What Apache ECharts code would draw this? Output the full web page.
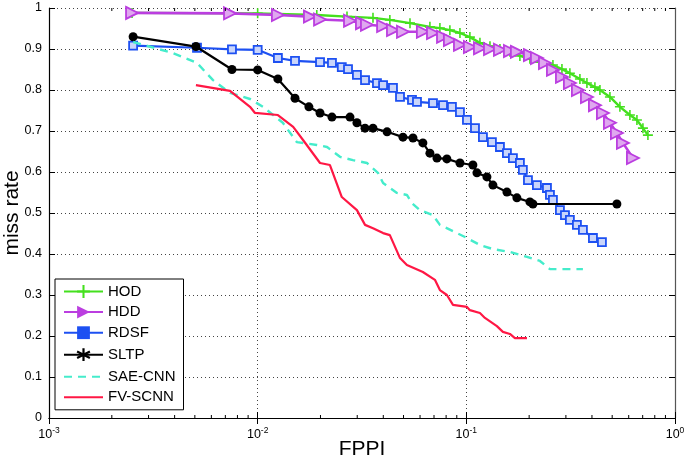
<!DOCTYPE html>
<html><head><meta charset="utf-8">
<script src="https://cdn.jsdelivr.net/npm/echarts@6/dist/echarts.min.js"></script>
<style>html,body{margin:0;padding:0;background:#fff}#c{width:685px;height:463px}</style>
</head><body><div id="c"></div>
<script>
const seriesNames = ['HOD', 'HDD', 'RDSF', 'SLTP', 'SAE-CNN', 'FV-SCNN'];

const hodFppi = [0.00250,0.0100,0.0192,0.0268,0.0357,0.0430,0.0537,0.0669,0.0747,0.0834,0.0932,0.1040,0.1162,0.1298,0.1449,0.1618,0.1806,0.2017,0.2253,0.2600,0.2872,0.3135,0.3502,0.3784,0.4132,0.4368,0.4877,0.5445,0.6080,0.6570,0.7019,0.7417];
const hodMiss = [0.988,0.987,0.983,0.979,0.976,0.971,0.963,0.954,0.951,0.946,0.939,0.929,0.915,0.907,0.900,0.893,0.883,0.876,0.868,0.861,0.851,0.841,0.827,0.817,0.807,0.800,0.783,0.759,0.739,0.727,0.707,0.690];

const hddFppi = [0.00250,0.00737,0.0125,0.0178,0.0199,0.0277,0.0316,0.0334,0.0399,0.0445,0.0497,0.0619,0.0692,0.0773,0.0834,0.0932,0.1040,0.1162,0.1298,0.1449,0.1618,0.1747,0.2017,0.2179,0.2381,0.2600,0.2872,0.3135,0.3425,0.3784,0.4132,0.4514,0.4877,0.5267,0.5628,0.6285];
const hddMiss = [0.988,0.987,0.983,0.979,0.972,0.969,0.963,0.959,0.956,0.946,0.942,0.942,0.939,0.930,0.922,0.910,0.905,0.902,0.900,0.898,0.895,0.893,0.885,0.878,0.866,0.849,0.832,0.817,0.800,0.783,0.763,0.744,0.720,0.695,0.671,0.634];

const rdsfFppi = [0.00253,0.00512,0.00753,0.0100,0.0125,0.0151,0.0199,0.0227,0.0253,0.0271,0.0299,0.0327,0.0373,0.0399,0.0445,0.0481,0.0549,0.0580,0.0692,0.0773,0.0853,0.0932,0.1007,0.1100,0.1201,0.1326,0.1449,0.1565,0.1672,0.1806,0.1866,0.1974,0.2179,0.2434,0.2516,0.2600,0.2809,0.2969,0.3135,0.3388,0.3620,0.4043,0.4465];
const rdsfMiss = [0.908,0.903,0.899,0.898,0.878,0.871,0.868,0.866,0.856,0.851,0.837,0.824,0.817,0.812,0.805,0.783,0.776,0.771,0.768,0.763,0.759,0.746,0.727,0.707,0.685,0.673,0.661,0.646,0.634,0.622,0.605,0.580,0.568,0.561,0.544,0.532,0.507,0.495,0.483,0.471,0.459,0.439,0.429];

const sltpFppi = [0.00253,0.00506,0.00753,0.0100,0.0125,0.0151,0.0176,0.0199,0.0227,0.0277,0.0299,0.0327,0.0357,0.0417,0.0497,0.0555,0.0619,0.0669,0.0723,0.0807,0.0932,0.1075,0.1124,0.1255,0.1341,0.1565,0.1747,0.2017,0.2085,0.5267];
const sltpMiss = [0.930,0.906,0.850,0.849,0.827,0.780,0.759,0.744,0.734,0.734,0.720,0.707,0.707,0.698,0.685,0.683,0.671,0.646,0.634,0.632,0.622,0.617,0.598,0.588,0.568,0.551,0.537,0.527,0.522,0.522];

const saeFppi = [0.00253,0.00393,0.00512,0.00611,0.00737,0.00919,0.0106,0.0132,0.0154,0.0192,0.0215,0.0248,0.0286,0.0334,0.0377,0.0399,0.0465,0.0519,0.0549,0.0599,0.0692,0.0747,0.0902,0.1007,0.1162,0.1341,0.1618,0.1952,0.2253,0.2516,0.3620];
const saeMiss = [0.917,0.890,0.866,0.824,0.793,0.778,0.759,0.720,0.673,0.666,0.661,0.637,0.629,0.622,0.598,0.573,0.549,0.544,0.524,0.507,0.495,0.471,0.451,0.439,0.422,0.412,0.405,0.393,0.383,0.363,0.363];

const fvFppi = [0.00506,0.00737,0.00919,0.00971,0.0125,0.0148,0.0165,0.0199,0.0222,0.0253,0.0299,0.0327,0.0357,0.0399,0.0430,0.0481,0.0519,0.0619,0.0707,0.0747,0.0807,0.0863,0.1007,0.1040,0.1162,0.1228,0.1401,0.1497,0.1618,0.1709,0.1952];
const fvMiss = [0.812,0.798,0.759,0.744,0.739,0.710,0.678,0.622,0.617,0.539,0.507,0.471,0.463,0.451,0.446,0.390,0.373,0.356,0.337,0.312,0.300,0.276,0.271,0.263,0.256,0.244,0.224,0.210,0.205,0.195,0.195];

const minorTickValues = [0.002,0.003,0.004,0.005,0.006,0.007,0.008,0.009,0.02,0.03,0.04,0.05,0.06,0.07,0.08,0.09,0.2,0.3,0.4,0.5,0.6,0.7,0.8,0.9];

const zip = (a, b) => a.map((v, i) => [v, b[i]]);
const FONT = 'Liberation Sans, Arial, sans-serif';

const C = {
  hod: '#44e01e', hdd: '#bb3ee0', rdsf: '#1d50f2', sltp: '#000000', sae: '#45eccb', fv: '#ff1744'
};
const plusPath = 'path://M4.2,0 L5.8,0 L5.8,4.2 L10,4.2 L10,5.8 L5.8,5.8 L5.8,10 L4.2,10 L4.2,5.8 L0,5.8 L0,4.2 L4.2,4.2 Z';
const triPath = 'path://M0,0 L10,5 L0,10 Z';
const starPath = 'path://M5,0 L5,10 M0.3,2.5 L9.7,7.5 M9.7,2.5 L0.3,7.5';

const chart = echarts.init(document.getElementById('c'), null, {renderer: 'canvas'});

const option = {
  animation: false,
  backgroundColor: '#fff',
  grid: {left: 49, right: 10, top: 8, bottom: 45, containLabel: false, outerBoundsMode: 'none'},
  legend: {
    orient: 'vertical', left: 55, top: 279,
    backgroundColor: '#fff', borderColor: '#000', borderWidth: 1, borderRadius: 0,
    padding: [5, 8, 5, 8],
    itemWidth: 39, itemHeight: 16, itemGap: 5.6,
    textStyle: {fontFamily: FONT, fontSize: 15, color: '#000'},
    data: [
      {name: 'HOD', itemStyle: {color: C.hod}},
      {name: 'HDD', itemStyle: {color: C.hdd, borderWidth: 0}},
      {name: 'RDSF', itemStyle: {color: C.rdsf, borderWidth: 0}},
      {name: 'SLTP', itemStyle: {color: 'none', borderColor: '#000', borderWidth: 2.2}},
      {name: 'SAE-CNN', itemStyle: {color: 'rgba(0,0,0,0)', borderWidth: 0}},
      {name: 'FV-SCNN', itemStyle: {color: 'rgba(0,0,0,0)', borderWidth: 0}}
    ]
  },
  xAxis: [{
    type: 'log', logBase: 10, min: 0.001, max: 1,
    name: 'FPPI', nameLocation: 'middle', nameGap: 21, nameMoveOverlap: false,
    nameTextStyle: {fontFamily: FONT, fontSize: 21, color: '#000'},
    axisLine: {show: true, lineStyle: {color: '#000', width: 1.2}},
    axisTick: {show: true, inside: true, length: 6, lineStyle: {color: '#000'}},
    axisLabel: {
      margin: 8, color: '#000',
      formatter: v => '{b|10}{s|' + Math.round(Math.log10(v)) + '}',
      rich: {
        b: {fontFamily: FONT, fontSize: 12.5, color: '#000'},
        s: {fontFamily: FONT, fontSize: 8.5, color: '#000', verticalAlign: 'top', padding: [0, 0, 8, 0]}
      }
    },
    splitLine: {show: true, lineStyle: {color: '#444', type: [1, 3], width: 1}}
  }, {
    type: 'log', logBase: 10, min: 0.001, max: 1, position: 'top',
    axisLine: {show: true, lineStyle: {color: '#000', width: 1.2}},
    axisTick: {show: true, inside: true, length: 6, lineStyle: {color: '#000'}},
    axisLabel: {show: false}, splitLine: {show: false}
  }],
  yAxis: [{
    type: 'value', min: 0, max: 1, interval: 0.1,
    name: 'miss rate', nameLocation: 'middle', nameGap: 26, nameMoveOverlap: false,
    nameTextStyle: {fontFamily: FONT, fontSize: 21, color: '#000'},
    axisLine: {show: true, lineStyle: {color: '#000', width: 1.2}},
    axisTick: {show: true, inside: true, length: 6, lineStyle: {color: '#000'}},
    axisLabel: {fontFamily: FONT, fontSize: 12.5, color: '#000', margin: 7,
      formatter: v => String(Math.round(v * 10) / 10)},
    splitLine: {show: true, lineStyle: {color: '#444', type: [1, 3], width: 1}}
  }, {
    type: 'value', min: 0, max: 1, interval: 0.1, position: 'right',
    axisLine: {show: true, lineStyle: {color: '#555', width: 1.2}},
    axisTick: {show: true, inside: true, length: 6, lineStyle: {color: '#000'}},
    axisLabel: {show: false}, splitLine: {show: false}
  }],
  series: [
    {
      name: 'HOD', type: 'line', data: zip(hodFppi, hodMiss),
      symbol: plusPath, symbolSize: 10,
      lineStyle: {color: C.hod, width: 2.4}, itemStyle: {color: C.hod}, z: 2
    },
    {
      name: 'HDD', type: 'line', data: zip(hddFppi, hddMiss),
      symbol: triPath, symbolSize: 12,
      lineStyle: {color: C.hdd, width: 2.6},
      itemStyle: {color: '#dfa8ef', borderColor: C.hdd, borderWidth: 1.8}, z: 3
    },
    {
      name: 'RDSF', type: 'line', data: zip(rdsfFppi, rdsfMiss),
      symbol: 'rect', symbolSize: 8,
      lineStyle: {color: C.rdsf, width: 2.2},
      itemStyle: {color: '#c9d5fb', borderColor: C.rdsf, borderWidth: 1.8}, z: 4
    },
    {
      name: 'SLTP', type: 'line',
      data: zip(sltpFppi, sltpMiss).map(p => ({value: p, symbol: 'circle'})),
      symbol: starPath, symbolSize: 9,
      lineStyle: {color: '#000', width: 2.2},
      itemStyle: {color: '#000', borderWidth: 0}, z: 5
    },
    {
      name: 'SAE-CNN', type: 'line', data: zip(saeFppi, saeMiss), showSymbol: false, symbol: 'none',
      lineStyle: {color: C.sae, width: 2.4, type: [8, 6]}, itemStyle: {color: C.sae}, z: 6
    },
    {
      name: 'FV-SCNN', type: 'line', data: zip(fvFppi, fvMiss), showSymbol: false, symbol: 'none',
      lineStyle: {color: C.fv, width: 2.2}, itemStyle: {color: C.fv}, z: 7
    },
    {
      type: 'custom', name: 'minorTicks', silent: true, z: 10,
      data: minorTickValues.map(v => [v, 0]),
      renderItem: (params, api) => {
        const pb = api.coord([api.value(0), 0]);
        const pt = api.coord([api.value(0), 1]);
        return {type: 'group', children: [
          {type: 'line', shape: {x1: pb[0], y1: pb[1], x2: pb[0], y2: pb[1] - 3}, style: {stroke: '#000', lineWidth: 1}},
          {type: 'line', shape: {x1: pt[0], y1: pt[1], x2: pt[0], y2: pt[1] + 3}, style: {stroke: '#000', lineWidth: 1}}
        ]};
      }
    }
  ]
};
chart.setOption(option);
</script>
</body></html>
